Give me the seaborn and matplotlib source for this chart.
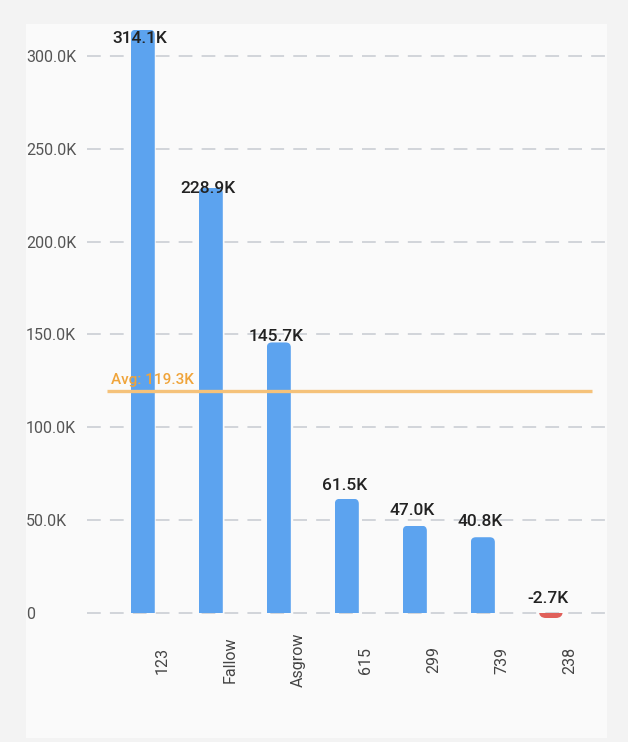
import matplotlib
matplotlib.use("Agg")
import matplotlib.pyplot as plt
from matplotlib.patches import FancyBboxPatch, Rectangle
from matplotlib.ticker import FuncFormatter
import seaborn as sns
import pandas as pd
import numpy as np

categories = ["123", "Fallow", "Asgrow", "615", "299", "739", "238"]
values = [314100, 228900, 145700, 61500, 47000, 40800, -2700]
yticks = [0, 50000, 100000, 150000, 200000, 250000, 300000]

BLUE = "#5ca3ef"
RED = "#e0605a"
df = pd.DataFrame({"cat": categories, "val": values})
df["sign"] = np.where(df["val"] >= 0, "pos", "neg")

sns.set_theme(style="white")
plt.rcParams["font.family"] = ["Roboto", "DejaVu Sans"]

W, H = 628, 742
fig = plt.figure(figsize=(W / 100, H / 100), dpi=100, facecolor="#f3f3f3")
fig.patches.append(Rectangle((26 / W, (H - 738) / H), (607 - 26) / W, (738 - 24) / H,
                             transform=fig.transFigure, facecolor="#fafafa",
                             edgecolor="none", zorder=-5))

ax_l, ax_r, ax_t, ax_b = 87, 608, 24, 622
ax = fig.add_axes([ax_l / W, (H - ax_b) / H, (ax_r - ax_l) / W, (ax_b - ax_t) / H])
ax.set_facecolor("none")
ax.set_zorder(1)

sns.barplot(data=df, x="cat", y="val", hue="sign", palette={"pos": BLUE, "neg": RED},
            width=0.353, legend=False, ax=ax, saturation=1, dodge=False)

ax.set_xlim(-0.82, 6.84)
ylo, yhi = -4850, 317200
ax.set_ylim(ylo, yhi)

# rounded bar ends
px_per_x = (ax_r - ax_l) / (6.84 + 0.82)
px_per_y = (ax_b - ax_t) / (yhi - ylo)
aspect = (1 / px_per_y) / (1 / px_per_x)
for p in list(ax.patches):
    x0, w = p.get_x(), p.get_width()
    y0, h = p.get_y(), p.get_height()
    if w == 0 or np.isnan(h):
        continue
    col = p.get_facecolor()
    ext = 20 / px_per_y
    r_px = 5.0 if h >= 0 else 7.0
    r_x = r_px / px_per_x
    if h >= 0:
        by, bh = y0 - ext, h + ext
    else:
        by0 = y0 + h
        by, bh = by0, (y0 + ext) - by0
    fb = FancyBboxPatch((x0, by), w, bh,
                        boxstyle=f"round,pad=0,rounding_size={r_x}",
                        mutation_aspect=aspect, facecolor=col, edgecolor="none",
                        zorder=2)
    clip = Rectangle((x0, min(y0, y0 + h)), w, abs(h), transform=ax.transData)
    ax.add_patch(fb)
    fb.set_clip_path(clip)
    p.set_visible(False)

# grid
for t in yticks:
    ax.axhline(t, color="#c6cbd1", lw=1.1, dashes=(9, 6), zorder=1)

ax.set_yticks(yticks)
ax.yaxis.set_major_formatter(FuncFormatter(lambda v, _: "0" if v == 0 else f"{v/1000:.1f}K"))
ax.tick_params(axis="y", length=0, pad=44, labelsize=11.5, labelcolor="#555555")
for lab in ax.get_yticklabels():
    lab.set_horizontalalignment("left")

ax.set_xticks(range(len(categories)))
ax.set_xticklabels([])
for i, c in enumerate(categories):
    ax.annotate(c, xy=(i, 0), xycoords=("data", "axes fraction"),
                xytext=(19 * 0.72, -(660 - ax_b) * 0.72), textcoords="offset points",
                rotation=90, ha="center", va="center", fontsize=11.5, color="#444444",
                annotation_clip=False)
ax.tick_params(axis="x", length=0)
ax.set_xlabel("")
ax.set_ylabel("")
for s in ax.spines.values():
    s.set_visible(False)

# value labels
for i, v in enumerate(values):
    ly = 10200 + 0.953 * v
    ax.text(i - 0.04, ly, f"{v/1000:.1f}K", ha="center", va="center",
            fontsize=12.5, color="#222222", fontweight="medium", zorder=5)

# average line
avg = float(np.mean(values))
ax.plot([-0.53, 6.6], [avg, avg], color="#f5c27a", lw=2.4, zorder=3, solid_capstyle="butt")
ax.text(-0.46, avg + 2200, f"Avg: {avg/1000:.1f}K", ha="left", va="bottom",
        fontsize=11, color="#f0a43a", fontweight="medium", zorder=5)

fig.savefig("out.png", dpi=100, facecolor=fig.get_facecolor())
